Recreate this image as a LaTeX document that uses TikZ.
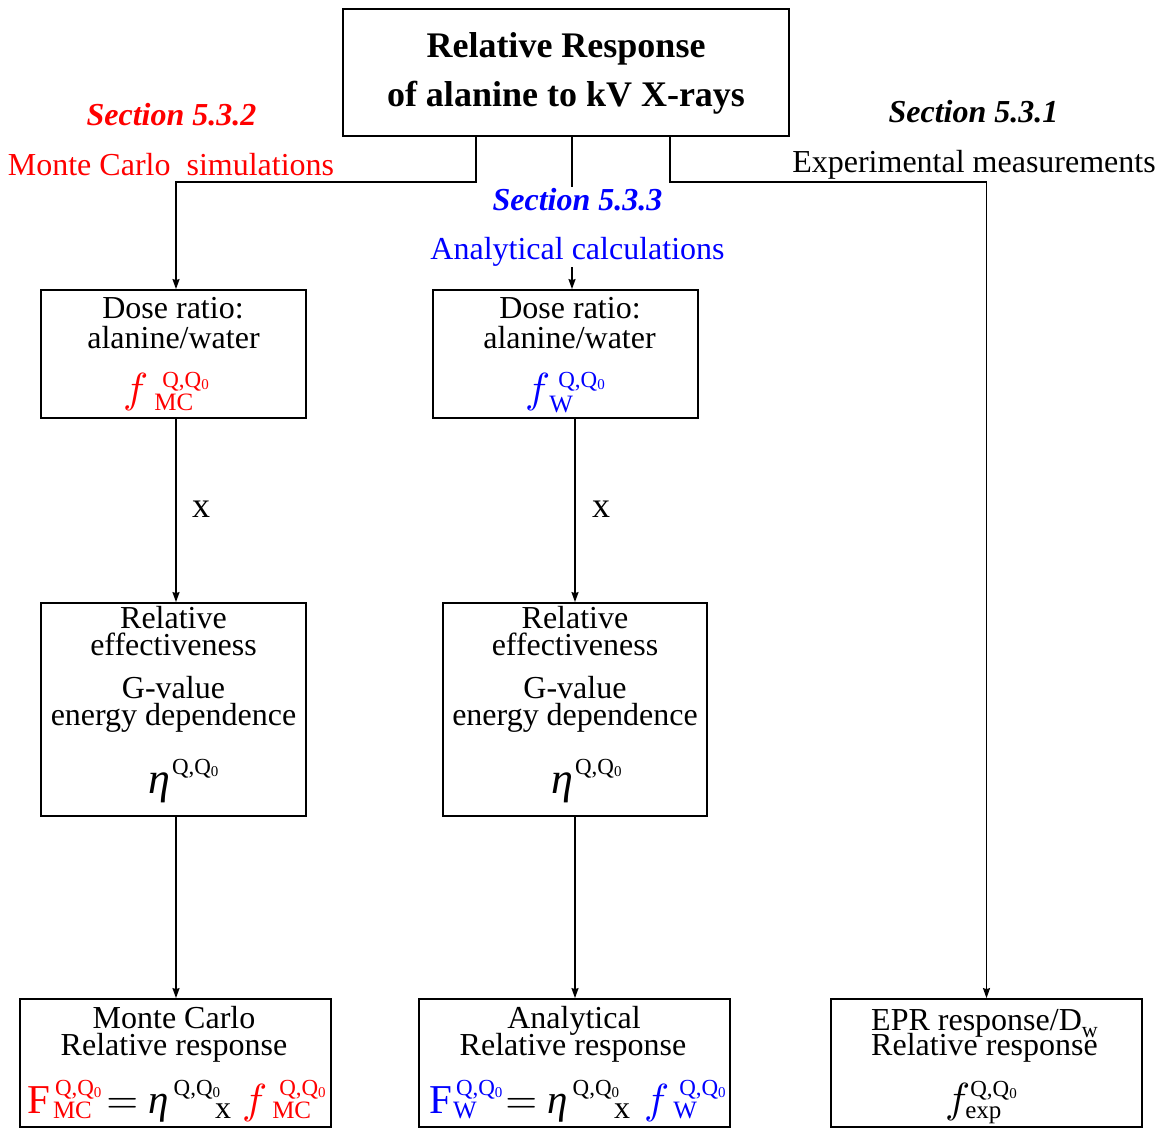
\documentclass[tikz,border=0pt]{standalone}
\usepackage{graphicx}
\usepackage{fontspec}
\setmainfont{Liberation Serif}
\usetikzlibrary{arrows.meta}
\newlength\sslen
\newsavebox\ssboxa
\newsavebox\ssboxb
% \SupSub{supkern}{supraise}{sup}{subdrop}{sub}
\newcommand\SupSub[5]{%
  \sbox\ssboxa{\kern#1\raisebox{#2}{\fontsize{23}{23}\selectfont #3}}%
  \sbox\ssboxb{\raisebox{-#4}{\fontsize{25}{25}\selectfont #5}}%
  \setlength\sslen{\wd\ssboxa}%
  \ifdim\wd\ssboxb>\sslen\setlength\sslen{\wd\ssboxb}\fi
  \makebox[\sslen][l]{\rlap{\usebox\ssboxa}\usebox\ssboxb}}
\newcommand\QQ{Q,Q\raisebox{-2pt}{\fontsize{15}{15}\selectfont 0}}
\newcommand\bigx{\raisebox{-5pt}{\fontsize{32}{32}\selectfont x}}
\newcommand\mf{{\fontsize{10}{12}\selectfont\scalebox{4.2}{$f$}}}
\newcommand\eqs{{\fontsize{10}{12}\selectfont\scalebox{4.1}{\usefont{OT1}{cmr}{m}{n}=}}}
\definecolor{mcred}{RGB}{255,0,0}
\definecolor{anblue}{RGB}{0,0,255}
\tikzset{
  box/.style={draw, line width=1.8pt, inner sep=0pt},
  txt/.style={font=\fontsize{32}{30}\selectfont, inner sep=0pt, anchor=base},
  ttl/.style={font=\fontsize{36}{40}\selectfont\bfseries, inner sep=0pt, anchor=base},
  sec/.style={font=\fontsize{32}{30}\selectfont\bfseries\itshape, inner sep=0pt, anchor=base},
  fml/.style={font=\fontsize{41}{41}\selectfont, inner sep=0pt, anchor=base west},
  conn/.style={line width=1.4pt, -{Stealth[length=10pt,width=7pt,inset=1pt]}},
}
\begin{document}
\begin{tikzpicture}[x=1pt,y=-1pt]
\useasboundingbox (0,0) rectangle (1164,1127);
\clip (0,0) rectangle (1164,1127);
% ---------- boxes
\node[box, minimum width=446pt, minimum height=127pt] (title) at (566,72.5) {};
\node[box, minimum width=265pt, minimum height=128pt] (dmc) at (173.5,354) {};
\node[box, minimum width=265pt, minimum height=128pt] (dw) at (565.5,354) {};
\node[box, minimum width=265pt, minimum height=213pt] (rmc) at (173.5,709.5) {};
\node[box, minimum width=264pt, minimum height=213pt] (rw) at (575,709.5) {};
\node[box, minimum width=311pt, minimum height=128pt] (bmc) at (175.5,1063) {};
\node[box, minimum width=311pt, minimum height=128pt] (bw) at (574.5,1063) {};
\node[box, minimum width=311pt, minimum height=128pt] (epr) at (986.5,1063) {};
% ---------- connectors
\coordinate (jl) at (476,182);
\coordinate (jm) at (572,182);
\coordinate (jr) at (670,182);
\coordinate (cl) at (176,0);
\coordinate (cm) at (575,0);
\draw[conn] (title.south -| jl) -- (jl) -| (cl |- dmc.north);
\draw[conn] (title.south -| jm) -- (jm |- dw.north);
\draw[conn] (title.south -| jr) -- (jr) -| (epr.north);
\draw[conn] (dmc.south -| cl) -- (rmc.north -| cl);
\draw[conn] (rmc.south -| cl) -- (bmc.north -| cl);
\draw[conn] (dw.south -| cm) -- (rw.north -| cm);
\draw[conn] (rw.south -| cm) -- (bw.north -| cm);
% ---------- title
\node[ttl] (t1) at (566,57) {Relative Response};
\node[ttl] (t2) at (566,106) {of alanine to kV X-rays};
% ---------- section labels
\node[sec, text=mcred] (s532) at (171.5,125) {Section 5.3.2};
\node[txt, text=mcred] (mcs) at (171,175) {Monte Carlo\ \ simulations};
\node[sec] (s531) at (973.5,122) {Section 5.3.1};
\node[txt] (expm) at (974,172) {Experimental measurements};
\node[fill=white, inner sep=1pt, align=center, text=anblue,
      font=\fontsize{32}{49}\selectfont] (s533) at (577.5,227)
  {{\bfseries\itshape Section 5.3.3}\\Analytical calculations};
% ---------- x labels
\node[txt, font=\fontsize{36}{36}\selectfont] (xl) at (201,517) {x};
\node[txt, font=\fontsize{36}{36}\selectfont] (xr) at (601,517) {x};
% ---------- dose ratio boxes
\node[txt] (dmc1) at (173,318) {Dose ratio:};
\node[txt] (dmc2) at (173.5,348) {alanine/water};
\node[fml, text=mcred, font=\fontsize{42}{42}\selectfont] (dmc3) at (123,402)
  {\mf\kern6pt\SupSub{8pt}{15pt}{\QQ}{8pt}{MC}};
\node[txt] (dw1) at (570,318) {Dose ratio:};
\node[txt] (dw2) at (569.5,348) {alanine/water};
\node[fml, text=anblue, font=\fontsize{42}{42}\selectfont] (dw3) at (525,402)
  {\mf\kern-1pt\SupSub{9pt}{15pt}{\QQ}{10pt}{W}};
% ---------- relative effectiveness boxes
\node[txt] (rmc1) at (173.5,628) {Relative};
\node[txt] (rmc2) at (173.5,655) {effectiveness};
\node[txt] (rmc3) at (173.5,698) {G-value};
\node[txt] (rmc4) at (173.5,725) {energy dependence};
\node[fml, font=\fontsize{44}{44}\selectfont] (rmc5) at (148,793)
  {\textit{η}\kern2pt\SupSub{0pt}{19pt}{\QQ}{0pt}{}};
\node[txt] (rw1) at (575,628) {Relative};
\node[txt] (rw2) at (575,655) {effectiveness};
\node[txt] (rw3) at (575,698) {G-value};
\node[txt] (rw4) at (575,725) {energy dependence};
\node[fml, font=\fontsize{44}{44}\selectfont] (rw5) at (551,793)
  {\textit{η}\kern2pt\SupSub{0pt}{19pt}{\QQ}{0pt}{}};
% ---------- bottom boxes
\node[txt] (bmc1) at (174,1028) {Monte Carlo};
\node[txt] (bmc2) at (174,1055) {Relative response};
\node[fml] (bmc3) at (27,1113)
  {\textcolor{mcred}{F\kern3pt\SupSub{2pt}{18pt}{\QQ}{5pt}{MC}}\kern5pt\eqs\kern10pt\textit{η}\kern5pt\SupSub{0pt}{18pt}{\QQ}{0pt}{}\kern-5pt\bigx\kern11pt\textcolor{mcred}{\mf\kern5pt\SupSub{7pt}{18pt}{\QQ}{5pt}{MC}}};
\node[txt] (bw1) at (574,1028) {Analytical};
\node[txt] (bw2) at (573,1055) {Relative response};
\node[fml] (bw3) at (429,1113)
  {\textcolor{anblue}{F\kern1pt\SupSub{3pt}{18pt}{\QQ}{5pt}{W}}\kern3pt\eqs\kern10pt\textit{η}\kern5pt\SupSub{0pt}{18pt}{\QQ}{0pt}{}\kern-5pt\bigx\kern14pt\textcolor{anblue}{\mf\kern4pt\SupSub{6pt}{18pt}{\QQ}{5pt}{W}}};
\node[txt] (epr1) at (984.5,1030) {EPR response/D\raisebox{-7pt}{\fontsize{22}{22}\selectfont w}};
\node[txt] (epr2) at (984.5,1055) {Relative response};
\node[fml, font=\fontsize{42}{42}\selectfont] (epr3) at (945,1112)
  {\mf\kern-5pt\SupSub{5pt}{16pt}{\QQ}{6pt}{exp}};
\end{tikzpicture}
\end{document}
